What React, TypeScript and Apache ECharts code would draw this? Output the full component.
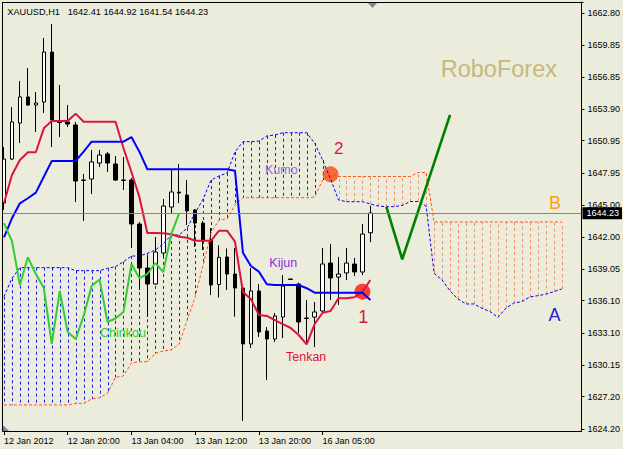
import React, { useEffect, useRef } from 'react';
import * as echarts from 'echarts';

// ---------- data ----------
const symbolName = 'XAUUSD,H1';
const xTickIndices = [0, 8, 16, 24, 32, 40];
const xTickLabels = ['12 Jan 2012', '12 Jan 20:00', '13 Jan 04:00', '13 Jan 12:00', '13 Jan 20:00', '16 Jan 05:00'];
const totalSlots = 73;

const yTickValues = [1624.2, 1627.2, 1630.15, 1633.1, 1636.1, 1639.05, 1642.0, 1645.0, 1647.95, 1650.95, 1653.9, 1656.85, 1659.85, 1662.8];
const Y_MIN = 1624.014;
const Y_MAX = 1663.821;

const openP = [1645.17, 1649.25, 1652.59, 1655.01, 1654.26, 1654.54, 1659.18, 1652.73, 1652.69, 1652.41, 1647.30, 1647.40, 1648.88, 1649.72, 1648.79, 1647.30, 1647.30, 1643.22, 1639.14, 1637.65, 1640.53, 1644.80, 1646.19, 1645.91, 1644.52, 1643.31, 1641.74, 1637.61, 1640.16, 1638.58, 1637.28, 1632.09, 1637.01, 1633.29, 1632.55, 1634.59, 1638.12, 1637.65, 1634.50, 1634.59, 1635.15, 1639.60, 1638.30, 1638.68, 1639.51, 1638.77, 1642.41];
const closeP = [1649.25, 1652.69, 1655.01, 1654.26, 1654.45, 1659.18, 1652.87, 1652.64, 1652.50, 1647.21, 1647.26, 1648.98, 1649.62, 1648.88, 1647.30, 1647.26, 1643.22, 1639.14, 1637.65, 1640.62, 1644.89, 1646.19, 1646.10, 1644.43, 1643.31, 1641.64, 1637.56, 1640.13, 1638.58, 1637.28, 1632.09, 1637.01, 1633.20, 1632.55, 1634.69, 1637.47, 1638.07, 1634.13, 1634.45, 1635.06, 1639.51, 1638.21, 1638.58, 1639.60, 1638.77, 1642.29, 1644.23];
const highP = [1650.37, 1654.08, 1656.49, 1657.70, 1655.47, 1660.48, 1661.78, 1656.12, 1654.26, 1652.69, 1647.86, 1650.09, 1650.09, 1649.90, 1649.53, 1649.44, 1647.49, 1643.41, 1640.25, 1642.02, 1645.54, 1648.23, 1648.79, 1647.30, 1644.61, 1643.50, 1642.85, 1641.23, 1640.95, 1641.00, 1637.56, 1639.14, 1637.65, 1633.66, 1634.96, 1638.49, 1638.14, 1637.78, 1636.17, 1635.98, 1641.00, 1641.37, 1640.16, 1641.00, 1640.07, 1643.22, 1644.92];
const lowP = [1644.52, 1649.16, 1650.74, 1654.17, 1651.76, 1653.52, 1650.37, 1651.29, 1652.22, 1645.26, 1643.50, 1646.01, 1648.51, 1648.05, 1647.21, 1646.38, 1641.00, 1637.10, 1634.59, 1637.56, 1640.16, 1644.24, 1645.17, 1643.13, 1641.09, 1640.81, 1636.63, 1636.40, 1637.10, 1634.62, 1624.94, 1631.72, 1632.74, 1628.75, 1632.27, 1632.64, 1638.05, 1633.11, 1632.18, 1631.81, 1634.96, 1636.17, 1635.71, 1638.03, 1638.40, 1638.49, 1641.54];

const tenkan = [1645.17, 1647.77, 1649.16, 1649.88, 1649.88, 1652.10, 1652.78, 1652.78, 1652.78, 1653.46, 1652.71, 1652.71, 1652.71, 1652.71, 1652.71, 1650.27, 1648.05, 1645.73, 1642.39, 1642.39, 1642.36, 1642.27, 1642.04, 1641.95, 1641.67, 1641.67, 1641.67, 1642.60, 1642.60, 1641.58, 1636.91, 1636.26, 1634.78, 1634.69, 1634.31, 1633.94, 1633.57, 1632.92, 1632.06, 1633.94, 1634.99, 1635.15, 1636.33, 1636.33, 1636.42, 1636.94, 1638.03];
const kijun = [1641.99, 1643.75, 1645.14, 1645.61, 1646.13, 1647.61, 1649.07, 1649.07, 1649.07, 1649.07, 1649.93, 1650.86, 1650.86, 1650.86, 1650.86, 1650.86, 1651.29, 1649.93, 1648.30, 1648.30, 1648.30, 1648.30, 1648.30, 1648.30, 1648.30, 1648.30, 1648.30, 1648.30, 1648.30, 1648.17, 1640.56, 1639.32, 1638.80, 1637.63, 1637.56, 1637.56, 1637.56, 1637.56, 1637.26, 1636.85, 1636.85, 1636.85, 1636.85, 1636.85, 1636.85, 1636.85, 1636.17];
const chinkou = [1643.31, 1641.64, 1637.56, 1640.13, 1638.58, 1637.28, 1632.09, 1637.01, 1633.20, 1632.55, 1634.69, 1637.47, 1638.07, 1634.13, 1634.45, 1635.06, 1639.51, 1638.21, 1638.58, 1639.60, 1638.77, 1642.29, 1644.23];
const spanA = [1636.48, 1638.18, 1639.17, 1639.17, 1639.17, 1639.17, 1639.17, 1639.17, 1639.17, 1638.89, 1638.89, 1638.89, 1638.89, 1639.11, 1639.26, 1639.72, 1640.25, 1640.25, 1640.50, 1640.81, 1641.37, 1642.20, 1642.20, 1642.85, 1644.24, 1645.54, 1647.30, 1647.68, 1647.95, 1649.90, 1650.86, 1650.86, 1650.92, 1651.39, 1651.48, 1651.69, 1651.69, 1651.69, 1651.69, 1650.74, 1649.16, 1647.40, 1645.45, 1645.29, 1645.29, 1645.29, 1645.08, 1644.89, 1644.83, 1644.83, 1644.95, 1645.31, 1645.31, 1644.89, 1638.65, 1638.03, 1637.01, 1636.26, 1635.80, 1635.80, 1635.40, 1635.10, 1634.56, 1635.40, 1635.89, 1636.01, 1636.45, 1636.57, 1636.70, 1636.94, 1637.19];
const spanB = [1626.43, 1626.43, 1626.43, 1626.43, 1626.43, 1626.43, 1626.43, 1626.43, 1626.43, 1626.58, 1626.58, 1626.98, 1627.10, 1627.51, 1629.00, 1629.12, 1630.32, 1630.44, 1630.44, 1631.22, 1631.44, 1631.53, 1632.09, 1634.31, 1636.45, 1639.42, 1642.39, 1643.59, 1643.69, 1644.98, 1645.66, 1645.66, 1645.66, 1645.66, 1645.66, 1645.66, 1645.66, 1645.66, 1645.66, 1645.73, 1647.30, 1647.86, 1647.63, 1647.63, 1647.63, 1647.63, 1647.63, 1647.63, 1647.63, 1647.63, 1647.63, 1647.63, 1648.00, 1648.00, 1643.41, 1643.41, 1643.41, 1643.41, 1643.41, 1643.41, 1643.41, 1643.41, 1643.41, 1643.41, 1643.41, 1643.41, 1643.41, 1643.41, 1643.41, 1643.41, 1643.41];

const projIdx = [48, 50, 56];
const projPrice = [1644.83, 1639.95, 1653.34];

const markIdx = [45, 41];
const markPrice = [1636.94, 1647.83];
const markColor = ['#ff1414', '#ff4a0c'];

// ---------- style ----------
const BG = '#ececdc';
const FONT = '"Liberation Sans", Arial, sans-serif';

export default function App() {
  const ref = useRef<HTMLDivElement>(null);

  useEffect(() => {
    const chart = echarts.init(ref.current!, null, { renderer: 'svg' });

    const categories = Array.from({ length: totalSlots }, (_, i) => {
      const k = xTickIndices.indexOf(i);
      return k >= 0 ? xTickLabels[k] : String(i);
    });
    const candles = openP.map((o, i) => [o, closeP[i], lowP[i], highP[i]]);
    const hatchData = spanA.map((a, i) => [i, a, spanB[i]]);
    const last = openP.length - 1;
    const lastClose = closeP[last];
    const isTick = (i: number) => xTickIndices.indexOf(i) >= 0;

    const txt = (text: string, x: number, y: number, fill: string, fontSize: number, align = 'left') => ({
      type: 'text',
      x,
      y,
      z: 110,
      silent: true,
      style: { text, fill, fontSize, fontFamily: FONT, align, verticalAlign: 'middle' },
    });

    const option: any = {
      animation: false,
      backgroundColor: BG,
      textStyle: { fontFamily: FONT },
      grid: { left: -1, top: 2, width: 584, height: 429 },
      xAxis: {
        type: 'category',
        data: categories,
        boundaryGap: true,
        axisLine: { show: true, lineStyle: { color: '#000', width: 1 } },
        axisTick: { show: true, alignWithLabel: true, length: 4, interval: (i: number) => isTick(i), lineStyle: { color: '#000' } },
        axisLabel: {
          show: true,
          interval: (i: number) => isTick(i),
          align: 'left',
          margin: 5,
          fontSize: 9,
          color: '#000',
          fontFamily: FONT,
        },
        splitLine: { show: false },
      },
      yAxis: {
        type: 'value',
        position: 'right',
        min: Y_MIN,
        max: Y_MAX,
        axisLine: { show: true, onZero: false, lineStyle: { color: '#000', width: 1 } },
        axisTick: { show: true, length: 3, customValues: yTickValues, lineStyle: { color: '#000' } },
        axisLabel: {
          show: true,
          customValues: yTickValues,
          formatter: (v: number) => v.toFixed(2),
          margin: 6,
          fontSize: 9,
          color: '#000',
          fontFamily: FONT,
        },
        splitLine: { show: false },
      },
      series: [
        {
          type: 'custom',
          silent: true,
          data: hatchData,
          encode: { x: 0, y: [1, 2] },
          renderItem: (params: any, api: any) => {
            const i = api.value(0);
            const a = api.value(1);
            const b = api.value(2);
            const p1 = api.coord([i, a]);
            const p2 = api.coord([i, b]);
            const x = Math.round(p1[0]) + 0.5;
            return {
              type: 'line',
              shape: { x1: x, y1: p1[1], x2: x, y2: p2[1] },
              style: { stroke: a > b ? '#1a1aee' : '#f2906a', lineWidth: 1, lineDash: [3, 3] },
            };
          },
        },
        {
          type: 'line',
          data: spanA,
          symbol: 'none',
          silent: true,
          lineStyle: { color: '#0000ff', width: 1, type: [3, 2] },
        },
        {
          type: 'line',
          data: spanB,
          symbol: 'none',
          silent: true,
          lineStyle: { color: '#ff5511', width: 1, type: [3, 2] },
        },
        {
          type: 'candlestick',
          data: candles,
          barWidth: 4,
          silent: true,
          itemStyle: { color: '#ffffff', color0: '#000000', borderColor: '#000000', borderColor0: '#000000', borderWidth: 1 },
          markLine: {
            silent: true,
            symbol: ['none', 'none'],
            data: [{ yAxis: lastClose }],
            lineStyle: { color: '#7d8893', width: 1, type: 'solid' },
            label: {
              show: true,
              position: 'end',
              distance: 1,
              formatter: lastClose.toFixed(2),
              backgroundColor: '#000',
              color: '#fff',
              fontSize: 9,
              fontFamily: FONT,
              padding: [2, 3, 1, 4],
            },
          },
        },
        {
          type: 'line',
          data: tenkan,
          symbol: 'none',
          silent: true,
          lineStyle: { color: '#dc143c', width: 2 },
        },
        {
          type: 'line',
          data: kijun,
          symbol: 'none',
          silent: true,
          lineStyle: { color: '#0000ff', width: 2 },
        },
        {
          type: 'line',
          data: chinkou,
          symbol: 'none',
          silent: true,
          lineStyle: { color: '#32cd32', width: 2 },
        },
        {
          type: 'line',
          data: projIdx.map((x, i) => [x, projPrice[i]]),
          symbol: 'none',
          silent: true,
          lineStyle: { color: '#008000', width: 2.6 },
        },
        {
          type: 'scatter',
          silent: true,
          symbolSize: 16,
          data: markIdx.map((x, i) => ({ value: [x, markPrice[i]], itemStyle: { color: markColor[i] } })),
        },
      ],
      graphic: [
        { type: 'rect', z: 100, silent: true, shape: { x: 0, y: 0, width: 2.5, height: 432 }, style: { fill: BG } },
        { type: 'line', z: 101, silent: true, shape: { x1: 2.5, y1: 2, x2: 2.5, y2: 431.5 }, style: { stroke: '#000', lineWidth: 1 } },
        { type: 'line', z: 101, silent: true, shape: { x1: 2, y1: 2.5, x2: 583.5, y2: 2.5 }, style: { stroke: '#000', lineWidth: 1 } },
        { type: 'polygon', z: 101, silent: true, shape: { points: [[368, 3], [377, 3], [372.5, 8]] }, style: { fill: '#7b8794' } },
        { type: 'polygon', z: 101, silent: true, shape: { points: [[3, 425], [3, 431], [9, 431]] }, style: { fill: '#7b8794' } },
        txt(symbolName, 7.3, 11.5, '#000', 9.2),
        txt(`${openP[last].toFixed(2)} ${highP[last].toFixed(2)} ${lowP[last].toFixed(2)} ${closeP[last].toFixed(2)}`, 67.7, 11.5, '#000', 9.2),
        txt('RoboForex', 440.7, 68.5, '#c6b87a', 23.5),
        txt('Kumo', 265, 170, '#9370db', 12.5),
        txt('Kijun', 269.3, 263, '#8a2be2', 12.5),
        txt('Tenkan', 286, 357, '#dc143c', 12.5),
        txt('Chinkou', 100, 333.3, '#32cd32', 12.5),
        txt('2', 338.8, 148, '#dc143c', 17, 'center'),
        txt('1', 363.3, 317, '#dc143c', 18, 'center'),
        txt('B', 555, 203, '#ffa020', 18, 'center'),
        txt('A', 554.5, 314.5, '#2020d0', 18, 'center'),
      ],
    };

    chart.setOption(option);
    return () => chart.dispose();
  }, []);

  return (
    <div
      ref={ref}
      style={{ position: 'fixed', left: 0, top: 0, width: 623, height: 449, background: BG }}
    />
  );
}
